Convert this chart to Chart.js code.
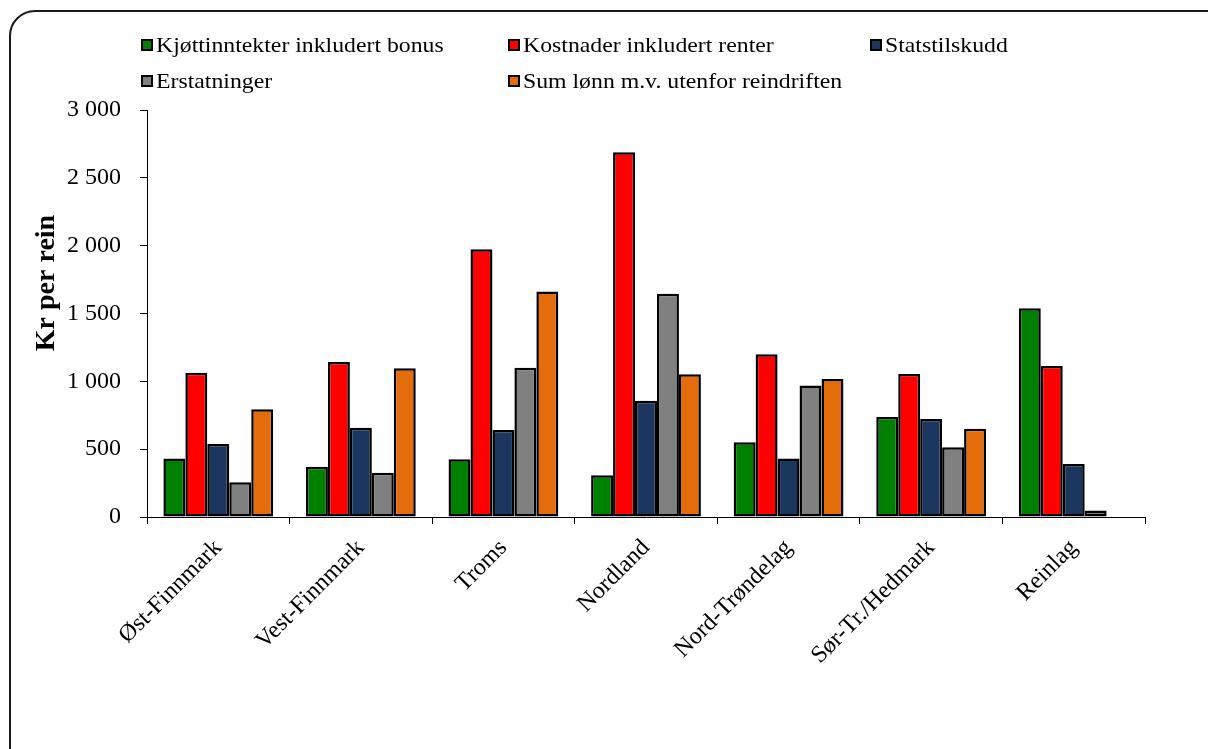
<!DOCTYPE html>
<html>
<head>
<meta charset="utf-8">
<script src="https://cdn.jsdelivr.net/npm/chart.js@4.4.0/dist/chart.umd.min.js"></script>
<style>
    html, body { margin: 0; padding: 0; background: #fff; }
    body {
        width: 1208px; height: 749px; position: relative; overflow: hidden;
        font-family: "Liberation Serif", "Times New Roman", serif;
    }
    #frame {
        position: absolute; left: 9px; top: 10px; width: 1230px; height: 770px;
        border: 2px solid #1a1a1a; border-radius: 26px; box-sizing: border-box;
    }
    #chart-wrap { position: absolute; left: 0; top: 0; width: 1208px; height: 749px; }
    .legend-item {
        position: absolute; display: flex; align-items: center;
        font-size: 22px; line-height: 26px; color: #000; white-space: nowrap;
    }
    .legend-box { width: 8px; height: 8px; border: 2px solid #000; margin-right: 3px; flex: none; }
    .legend-text { display: inline-block; transform: scaleX(1.08); transform-origin: left center; }
</style>
</head>
<body>
<div id="frame"></div>
<div id="chart-wrap"><canvas id="chart" width="1208" height="749"></canvas></div>
<div id="legend"></div>
<script>
const categories = ["Øst-Finnmark", "Vest-Finnmark", "Troms", "Nordland", "Nord-Trøndelag", "Sør-Tr./Hedmark", "Reinlag"];
const seriesNames = ["Kjøttinntekter inkludert bonus", "Kostnader inkludert renter", "Statstilskudd", "Erstatninger", "Sum lønn m.v. utenfor reindriften"];
const kjottinntekter = [432, 371, 425, 307, 551, 737, 1538];
const kostnader = [1063, 1142, 1973, 2688, 1199, 1054, 1113];
const statstilskudd = [538, 658, 641, 857, 432, 722, 391];
const erstatninger = [256, 326, 1101, 1646, 970, 514, 47];
const sumLonn = [794, 1096, 1663, 1052, 1017, 651, null];
const yTicks = [0, 500, 1000, 1500, 2000, 2500, 3000];
const yTitle = "Kr per rein";

const colors = ["#008000", "#ff0000", "#1b365f", "#808080", "#e46c0a"];
const FONT = "'Liberation Serif', 'Times New Roman', serif";

// legend positions (left, center y)
const legendSlots = [[141, 45], [508, 45], [870, 45], [141, 81], [508, 81]];

const fmt = (v) => String(v).replace(/\B(?=(\d{3})+(?!\d))/g, " ");

// y title sits above the plot's middle, so draw it ourselves
const yTitlePlugin = {
    id: "yTitle",
    afterDraw(chart) {
        const ctx = chart.ctx;
        ctx.save();
        ctx.translate(47, 283);
        ctx.rotate(-Math.PI / 2);
        ctx.font = "bold 28px " + FONT;
        ctx.fillStyle = "#000";
        ctx.textAlign = "center";
        ctx.textBaseline = "middle";
        ctx.fillText(yTitle, 0, 0);
        ctx.restore();
    },
};

const seriesData = [kjottinntekter, kostnader, statstilskudd, erstatninger, sumLonn];

const chart = new Chart(document.getElementById("chart"), {
    type: "bar",
    data: {
        labels: categories,
        datasets: seriesData.map((d, i) => ({
            label: seriesNames[i],
            data: d,
            backgroundColor: colors[i],
            borderColor: "#000",
            borderWidth: 2.5,
            borderSkipped: false,
            barPercentage: 1,
            categoryPercentage: 0.77,
        })),
    },
    options: {
        responsive: false,
        animation: false,
        layout: { padding: { top: 110, right: 63, left: 0, bottom: 0 } },
        plugins: {
            legend: { display: false },
            tooltip: { enabled: false },
        },
        scales: {
            x: {
                grid: { display: true, drawOnChartArea: false, tickLength: 7, color: "#000", offset: true },
                border: { display: true, color: "#000", width: 1 },
                ticks: {
                    color: "#000",
                    font: { family: FONT, size: 24 },
                    minRotation: 45,
                    maxRotation: 45,
                    padding: 10,
                },
                afterFit: (s) => { s.height = 232; },
            },
            y: {
                min: 0,
                max: 3000,
                grid: { drawOnChartArea: false, tickLength: 7, color: "#000" },
                border: { display: true, color: "#000", width: 1 },
                afterBuildTicks: (s) => { s.ticks = yTicks.map((v) => ({ value: v })); },
                ticks: {
                    color: "#000",
                    font: { family: FONT, size: 24 },
                    padding: 19,
                    callback: (v) => fmt(v),
                },
                afterFit: (s) => { s.width = 147; },
            },
        },
    },
    plugins: [yTitlePlugin],
});

// HTML legend
const legendEl = document.getElementById("legend");
seriesNames.forEach((name, i) => {
    const [x, y] = legendSlots[i];
    const item = document.createElement("div");
    item.className = "legend-item";
    item.style.left = x + "px";
    item.style.top = (y - 13) + "px";
    item.innerHTML = `<span class="legend-box" style="background:${colors[i]}"></span><span class="legend-text">${name}</span>`;
    legendEl.appendChild(item);
});
</script>
</body>
</html>
